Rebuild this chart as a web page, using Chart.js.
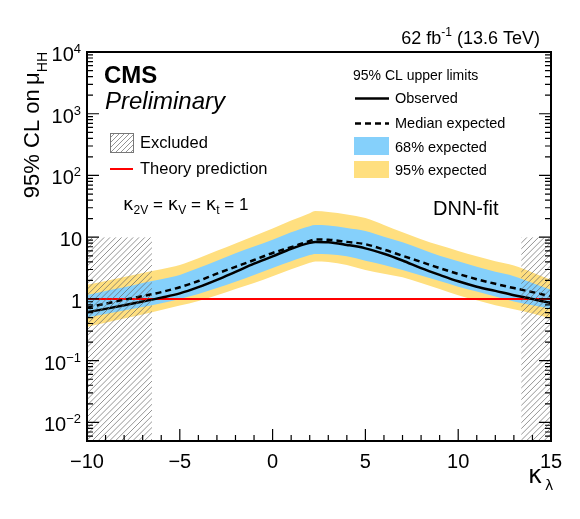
<!DOCTYPE html>
<html><head><meta charset="utf-8">
<script src="https://cdn.jsdelivr.net/npm/chart.js@4.4.1/dist/chart.umd.min.js"></script>
<style>html,body{margin:0;padding:0;background:#fff;}canvas{display:block;}</style>
</head><body>
<canvas id="c" width="580" height="519"></canvas>
<script>
// ---- data ----
const kappa    = [-10, -9, -8, -7, -6, -5, -4, -3, -2, -1, 0, 1, 2, 2.3, 3, 4, 5, 6, 7, 8, 9, 10, 11, 12, 13, 14, 15];
const observed = [0.61, 0.69, 0.79, 0.91, 1.05, 1.23, 1.55, 2.04, 2.75, 3.72, 4.9, 6.5, 8.1, 8.4, 8.3, 7.5, 6.6, 5.4, 4.2, 3.16, 2.45, 1.93, 1.58, 1.35, 1.15, 1.0, 0.85];
const expected = [0.72, 0.84, 0.97, 1.11, 1.29, 1.55, 1.95, 2.57, 3.31, 4.27, 5.56, 6.9, 8.7, 9.2, 9.1, 8.4, 7.7, 6.3, 5.0, 3.98, 3.16, 2.54, 2.09, 1.76, 1.5, 1.29, 1.1];
const band68Lo = [0.50, 0.57, 0.65, 0.74, 0.85, 1.0, 1.2, 1.5, 1.9, 2.45, 3.16, 4.07, 5.13, 5.36, 5.3, 4.9, 4.17, 3.55, 2.95, 2.4, 1.95, 1.58, 1.32, 1.1, 0.91, 0.79, 0.70];
const band68Hi = [1.16, 1.35, 1.55, 1.82, 2.09, 2.45, 3.16, 4.17, 5.5, 7.08, 9.12, 12.0, 15.1, 15.7, 15.5, 14.1, 12.6, 10.2, 8.3, 6.46, 5.0, 4.07, 3.31, 2.75, 2.34, 1.82, 1.41];
const band95Lo = [0.35, 0.41, 0.48, 0.56, 0.66, 0.78, 0.93, 1.15, 1.45, 1.82, 2.34, 3.02, 3.85, 4.06, 3.98, 3.55, 2.95, 2.57, 2.24, 1.82, 1.45, 1.15, 0.95, 0.79, 0.68, 0.58, 0.48];
const band95Hi = [1.69, 1.95, 2.26, 2.63, 3.02, 3.55, 4.57, 6.03, 7.94, 10.5, 13.8, 18.6, 24.5, 26.5, 25.7, 23.4, 20.4, 15.8, 12.0, 9.3, 7.4, 6.0, 4.9, 4.07, 3.47, 2.69, 2.04];
const theoryX  = [-10, 15];
const theoryY  = [1, 1];
const excludedLo = [-10, 13.4];
const excludedHi = [-6.5, 15];
const excludedTop = 10;
const xTickLabels = [-10, -5, 0, 5, 10, 15];
const yTickExps   = [-2, -1, 0, 1, 2, 3, 4];
const xMin = -10, xMax = 15, yMin = 0.005, yMax = 10000;

// ---- style ----
const SANS = '"Liberation Sans", Arial, Helvetica, sans-serif';
const GREEK = '"DejaVu Sans", sans-serif';
const BLUE = 'rgb(133,208,251)';
const YELLOW = 'rgb(255,223,127)';

const pts = ys => kappa.map((k, i) => ({x: k, y: ys[i]}));
const bandStyle = {borderWidth: 0, pointRadius: 0, borderColor: 'rgba(0,0,0,0)', cubicInterpolationMode: 'monotone'};

function hatch(ctx, x0, y0, x1, y1, step) {
  ctx.save();
  ctx.beginPath(); ctx.rect(x0, y0, x1 - x0, y1 - y0); ctx.clip();
  ctx.strokeStyle = '#666'; ctx.lineWidth = 0.7;
  ctx.beginPath();
  const h = y1 - y0;
  for (let s = x0 - h; s < x1 + step; s += step) {
    ctx.moveTo(s, y1); ctx.lineTo(s + h, y0);
  }
  ctx.stroke();
  ctx.restore();
}

function txt(ctx, s, x, y, font, align) {
  ctx.font = font; ctx.textAlign = align || 'left'; ctx.textBaseline = 'alphabetic';
  ctx.fillText(s, x, y);
  ctx.textAlign = 'left';
  return ctx.measureText(s).width;
}

const decor = {
  id: 'decor',
  afterDatasetsDraw(chart) {
    const {ctx, chartArea: a, scales: {x, y}} = chart;
    for (let i = 0; i < excludedLo.length; i++) {
      const x0 = x.getPixelForValue(excludedLo[i]), x1 = x.getPixelForValue(excludedHi[i]);
      hatch(ctx, x0, y.getPixelForValue(excludedTop), x1, a.bottom, 5.8);
    }
  },
  afterDraw(chart) {
    const {ctx, chartArea: a, scales: {x, y}} = chart;
    ctx.save();
    ctx.fillStyle = '#000'; ctx.strokeStyle = '#000';
    // ticks
    ctx.lineWidth = 1.2;
    ctx.beginPath();
    for (let v = xMin; v <= xMax; v++) {
      const px = x.getPixelForValue(v);
      const len = (v % 5 === 0) ? 12 : 6;
      ctx.moveTo(px, a.bottom); ctx.lineTo(px, a.bottom - len);
    }
    for (let e = -3; e <= 4; e++) {
      for (let m = 1; m <= 9; m++) {
        const v = m * Math.pow(10, e);
        if (v < yMin * 0.999 || v > yMax * 1.001) continue;
        const py = y.getPixelForValue(v);
        const len = m === 1 ? 12 : 6;
        ctx.moveTo(a.left, py); ctx.lineTo(a.left + len, py);
        ctx.moveTo(a.right, py); ctx.lineTo(a.right - len, py);
      }
    }
    ctx.stroke();
    // frame
    ctx.lineWidth = 2;
    ctx.strokeRect(a.left, a.top, a.right - a.left, a.bottom - a.top);

    // x tick labels
    xTickLabels.forEach(v => {
      const s = v < 0 ? '\u2212' + Math.abs(v) : String(v);
      txt(ctx, s, x.getPixelForValue(v), 468, '20px ' + SANS, 'center');
    });
    // y tick labels
    yTickExps.forEach(e => {
      const py = y.getPixelForValue(Math.pow(10, e));
      if (e === 0) { txt(ctx, '1', 82, py + 9, '20px ' + SANS, 'right'); return; }
      if (e === 1) { txt(ctx, '10', 82, py + 9, '20px ' + SANS, 'right'); return; }
      const sup = e < 0 ? '\u2212' + Math.abs(e) : String(e);
      ctx.font = '13px ' + SANS;
      const w = ctx.measureText(sup).width;
      txt(ctx, sup, 81, py + 1, '13px ' + SANS, 'right');
      txt(ctx, '10', 81 - w, py + 9, '20px ' + SANS, 'right');
    });

    // y-axis title (rotated)
    ctx.save();
    ctx.translate(39, 0); ctx.rotate(-Math.PI / 2);
    ctx.font = '22px ' + SANS;
    const mainT = '95% CL on\u2009\u03bc';
    const wm = ctx.measureText(mainT).width;
    ctx.font = '14px ' + SANS;
    const ws = ctx.measureText('HH').width;
    const u0 = -52 - wm - ws;
    txt(ctx, mainT, u0, 0, '22px ' + SANS);
    txt(ctx, 'HH', u0 + wm, 8, '14px ' + SANS);
    ctx.restore();

    // x-axis title
    txt(ctx, '\u03ba', 528, 483, '24px ' + GREEK);
    txt(ctx, '\u03bb', 545, 490, '14px ' + GREEK);

    // luminosity
    ctx.font = '18px ' + SANS;
    const tail = ' (13.6 TeV)';
    const wt = ctx.measureText(tail).width;
    txt(ctx, tail, 540, 44, '18px ' + SANS, 'right');
    ctx.font = '12px ' + SANS;
    const wsup = ctx.measureText('-1').width;
    txt(ctx, '-1', 540 - wt, 36, '12px ' + SANS, 'right');
    txt(ctx, '62 fb', 540 - wt - wsup, 44, '18px ' + SANS, 'right');

    // CMS Preliminary
    txt(ctx, 'CMS', 104, 83, 'bold 24px ' + SANS);
    txt(ctx, 'Preliminary', 105, 109, 'italic 24px ' + SANS);

    // left legend
    hatch(ctx, 110, 133, 133, 152, 5);
    ctx.strokeStyle = '#777'; ctx.lineWidth = 1;
    ctx.strokeRect(110.5, 133.5, 23, 19);
    txt(ctx, 'Excluded', 140, 148, '16.5px ' + SANS);
    ctx.strokeStyle = '#ff0000'; ctx.lineWidth = 2;
    ctx.beginPath(); ctx.moveTo(110, 169); ctx.lineTo(133, 169); ctx.stroke();
    txt(ctx, 'Theory prediction', 140, 174, '16.5px ' + SANS);

    // coupling text
    let cx = 123;
    const parts = [['\u03ba', 'g'], ['2V', 's'], [' = ', 'n'], ['\u03ba', 'g'], ['V', 's'], [' = ', 'n'], ['\u03ba', 'g'], ['t', 's'], [' = 1', 'n']];
    parts.forEach(([s, t]) => {
      if (t === 'g') cx += txt(ctx, s, cx, 210, '18px ' + GREEK);
      else if (t === 's') cx += txt(ctx, s, cx, 214, '12px ' + SANS);
      else cx += txt(ctx, s, cx, 210, '17px ' + SANS);
    });

    // right legend
    txt(ctx, '95% CL upper limits', 353, 80, '14px ' + SANS);
    ctx.strokeStyle = '#000'; ctx.lineWidth = 2.5;
    ctx.beginPath(); ctx.moveTo(355, 98.5); ctx.lineTo(389, 98.5); ctx.stroke();
    txt(ctx, 'Observed', 395, 103, '14.5px ' + SANS);
    ctx.setLineDash([6, 4]);
    ctx.beginPath(); ctx.moveTo(355, 123.5); ctx.lineTo(389, 123.5); ctx.stroke();
    ctx.setLineDash([]);
    txt(ctx, 'Median expected', 395, 128, '14.5px ' + SANS);
    ctx.fillStyle = BLUE; ctx.fillRect(354, 137, 35, 18);
    ctx.fillStyle = '#000';
    txt(ctx, '68% expected', 395, 152, '14.5px ' + SANS);
    ctx.fillStyle = YELLOW; ctx.fillRect(354, 161, 35, 17);
    ctx.fillStyle = '#000';
    txt(ctx, '95% expected', 395, 175, '14.5px ' + SANS);

    txt(ctx, 'DNN-fit', 433, 215, '20px ' + SANS);
    ctx.restore();
  }
};

new Chart(document.getElementById('c'), {
  type: 'line',
  data: {
    datasets: [
      Object.assign({label: '95% expected', data: pts(band95Hi), backgroundColor: YELLOW, fill: '+1', order: 10}, bandStyle),
      Object.assign({label: '95% lower', data: pts(band95Lo), fill: false, order: 9}, bandStyle),
      Object.assign({label: '68% expected', data: pts(band68Hi), backgroundColor: BLUE, fill: '+1', order: 8}, bandStyle),
      Object.assign({label: '68% lower', data: pts(band68Lo), fill: false, order: 7}, bandStyle),
      {label: 'Theory prediction', data: theoryX.map((v, i) => ({x: v, y: theoryY[i]})), borderColor: '#ff0000', borderWidth: 2, pointRadius: 0, fill: false, order: 3},
      {label: 'Median expected', data: pts(expected), borderColor: '#000', borderWidth: 2.5, borderDash: [6, 4], pointRadius: 0, fill: false, cubicInterpolationMode: 'monotone', order: 2},
      {label: 'Observed', data: pts(observed), borderColor: '#000', borderWidth: 2.5, pointRadius: 0, fill: false, cubicInterpolationMode: 'monotone', order: 1}
    ]
  },
  options: {
    responsive: false,
    animation: false,
    devicePixelRatio: 1,
    layout: {padding: {left: 0, right: 29, top: 52, bottom: 0}},
    plugins: {legend: {display: false}, tooltip: {enabled: false}},
    scales: {
      x: {type: 'linear', min: xMin, max: xMax,
          grid: {display: false}, border: {display: false}, ticks: {display: false},
          afterFit: s => { s.height = 78; }},
      y: {type: 'logarithmic', min: yMin, max: yMax,
          grid: {display: false}, border: {display: false}, ticks: {display: false},
          afterFit: s => { s.width = 87; }}
    }
  },
  plugins: [decor]
});
</script>
</body></html>
